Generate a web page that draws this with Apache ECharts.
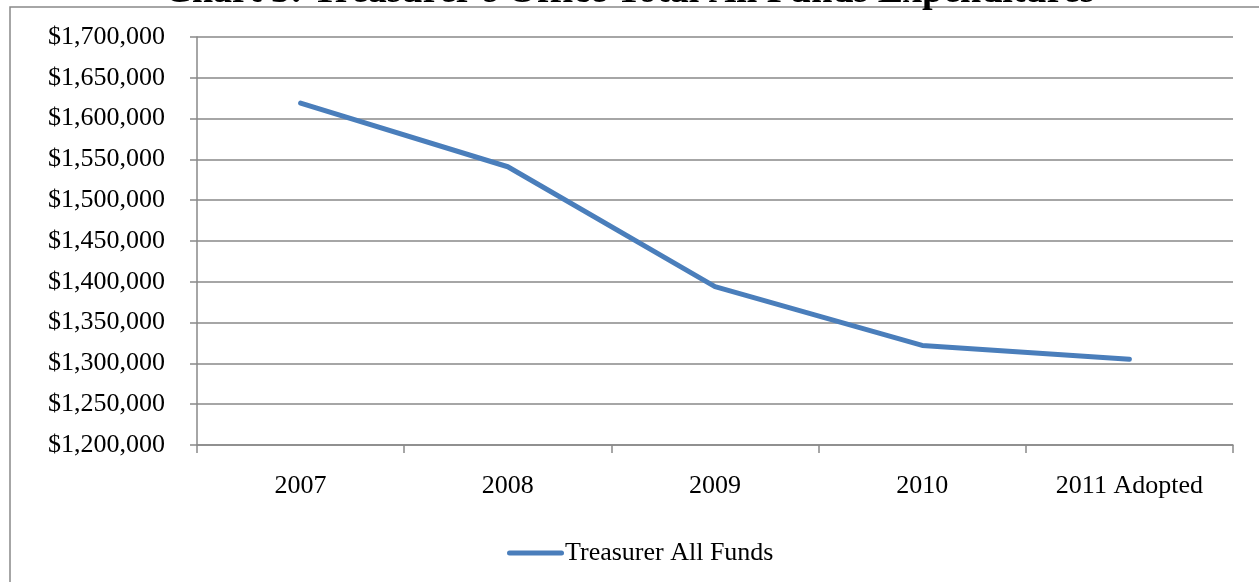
<!DOCTYPE html>
<html>
<head>
<meta charset="utf-8">
<style>
  html, body { margin: 0; padding: 0; background: #fff; }
  #chart { width: 1259px; height: 582px; }
</style>
<script src="https://cdn.jsdelivr.net/npm/echarts@6/dist/echarts.min.js"></script>
</head>
<body>
<div id="chart"></div>
<script>
// Treasurer's Office, total expenditures across all funds
const years = ['2007', '2008', '2009', '2010', '2011 Adopted'];
const allFunds = [1619000, 1541000, 1394000, 1322000, 1305000];
const seriesName = 'Treasurer All Funds';
const chartTitle = "Chart 3: Treasurer's Office Total All Funds Expenditures";

const serif = '"Liberation Serif", "Times New Roman", serif';
const gray = '#898989';

const fmtMoney = v => '$' + Math.round(v).toLocaleString('en-US');

const chart = echarts.init(document.getElementById('chart'), null, { renderer: 'canvas' });

chart.setOption({
  animation: false,
  backgroundColor: '#fff',
  title: {
    text: chartTitle,
    left: 'center',
    top: -27,
    padding: 0,
    textStyle: { fontFamily: serif, fontSize: 38, fontWeight: 'bold', color: '#000' }
  },
  graphic: [{
    type: 'rect',
    z: -1,
    shape: { x: 10, y: 7, width: 1400, height: 800 },
    style: { fill: null, stroke: gray, lineWidth: 1.5 }
  }],
  grid: { left: 197, right: 26, top: 37, bottom: 137, containLabel: false },
  xAxis: {
    type: 'category',
    data: years,
    boundaryGap: true,
    axisLine: { lineStyle: { color: gray, width: 1.5 } },
    axisTick: { show: true, length: 8, inside: false, alignWithLabel: false, lineStyle: { color: gray, width: 1.5 } },
    axisLabel: { margin: 28, fontFamily: serif, fontSize: 26, color: '#000' }
  },
  yAxis: {
    type: 'value',
    min: 1200000,
    max: 1700000,
    interval: 50000,
    axisLine: { show: true, lineStyle: { color: gray, width: 1.5 } },
    axisTick: { show: true, length: 7, inside: false, lineStyle: { color: gray, width: 1.5 } },
    splitLine: { show: true, lineStyle: { color: gray, width: 1.5 } },
    axisLabel: { margin: 32, fontFamily: serif, fontSize: 26, color: '#000', formatter: fmtMoney }
  },
  legend: {
    data: [seriesName],
    left: 502,
    top: 535,
    itemWidth: 57,
    itemHeight: 14,
    itemGap: 0,
    icon: 'path://M2.5,4.5 L54.5,4.5 A2.5,2.5 0 0 1 54.5,9.5 L2.5,9.5 A2.5,2.5 0 0 1 2.5,4.5 Z',
    textStyle: { fontFamily: serif, fontSize: 26, color: '#000', padding: [0, 0, 0, -4] }
  },
  series: [{
    name: seriesName,
    type: 'line',
    data: allFunds,
    symbol: 'none',
    smooth: false,
    itemStyle: { color: '#4A7EBB' },
    lineStyle: { color: '#4A7EBB', width: 5, cap: 'round', join: 'round' }
  }]
});
</script>
</body>
</html>
